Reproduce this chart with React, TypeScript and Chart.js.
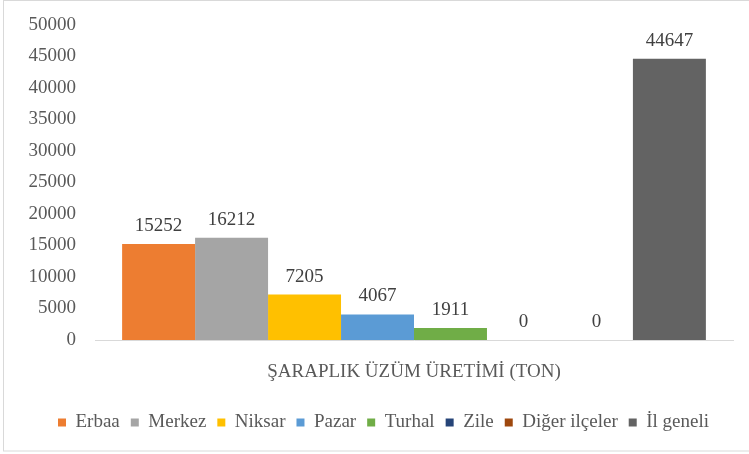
import React, { useEffect, useRef } from "react";
import { Chart, registerables } from "chart.js";

Chart.register(...registerables);

const categories = ["ŞARAPLIK ÜZÜM ÜRETİMİ (TON)"];
const seriesNames = ["Erbaa", "Merkez", "Niksar", "Pazar", "Turhal", "Zile", "Diğer ilçeler", "İl geneli"];
const seriesValues = [15252, 16212, 7205, 4067, 1911, 0, 0, 44647];
const seriesColors = ["#ED7D31", "#A5A5A5", "#FFC000", "#5B9BD5", "#70AD47", "#264478", "#9E480E", "#636363"];
const yMin = 0;
const yMax = 50000;
const yStep = 5000;

const FONT = "Liberation Serif";
const FS = 19;

const borderPlugin = {
  id: "outerBorder",
  beforeDraw(chart: any) {
    const ctx = chart.ctx;
    ctx.save();
    ctx.fillStyle = "#ffffff";
    ctx.fillRect(0, 0, chart.width, chart.height);
    ctx.strokeStyle = "#d9d9d9";
    ctx.lineWidth = 1;
    ctx.strokeRect(3.5, 0.5, chart.width, 450.5);
    ctx.restore();
  },
};

const legendShiftPlugin = {
  id: "legendShift",
  afterLayout(chart: any) {
    const lg = chart.legend;
    if (lg) {
      lg.left += 7;
      lg.right += 7;
    }
  },
};

const valueLabelPlugin = {
  id: "valueLabels",
  afterDatasetsDraw(chart: any) {
    const ctx = chart.ctx;
    ctx.save();
    ctx.font = `${FS}px "${FONT}"`;
    ctx.fillStyle = "#404040";
    ctx.textAlign = "center";
    ctx.textBaseline = "alphabetic";
    chart.data.datasets.forEach((ds: any, i: number) => {
      const meta = chart.getDatasetMeta(i);
      meta.data.forEach((el: any, j: number) => {
        ctx.fillText(String(ds.data[j]), el.x, el.y - 13);
      });
    });
    ctx.restore();
  },
};

export default function App() {
  const canvasRef = useRef<HTMLCanvasElement | null>(null);

  useEffect(() => {
    document.body.style.margin = "0";
    const canvas = canvasRef.current;
    if (!canvas) return;
    const chart = new Chart(canvas, {
      type: "bar",
      data: {
        labels: categories,
        datasets: seriesNames.map((name, i) => ({
          label: name,
          data: [seriesValues[i]],
          backgroundColor: seriesColors[i],
          borderWidth: 0,
          barPercentage: 1,
          categoryPercentage: 0.915,
        })),
      },
      options: {
        responsive: false,
        animation: false,
        layout: { padding: { top: 25, right: 16, left: 20, bottom: 12 } },
        plugins: {
          tooltip: { enabled: false },
          legend: {
            position: "bottom",
            labels: {
              boxWidth: 8,
              boxHeight: 8,
              padding: 11,
              color: "#595959",
              font: { family: FONT, size: FS },
            },
          },
        },
        scales: {
          x: {
            grid: { display: false, drawTicks: false },
            border: { display: true, color: "#d9d9d9", width: 1 },
            ticks: { color: "#595959", font: { family: FONT, size: FS }, padding: 21 },
            afterFit(scale: any) {
              scale.height = 62;
              scale.paddingLeft = 0;
              scale.paddingRight = 0;
            },
          },
          y: {
            min: yMin,
            max: yMax,
            grid: { display: false, drawTicks: false },
            border: { display: false },
            ticks: {
              stepSize: yStep,
              color: "#595959",
              font: { family: FONT, size: FS },
              padding: 19,
              callback: (v: any) => String(v),
            },
            afterFit(scale: any) {
              scale.width = 75;
              scale.paddingTop = 0;
              scale.paddingBottom = 0;
            },
          },
        },
      },
      plugins: [borderPlugin, legendShiftPlugin, valueLabelPlugin],
    } as any);
    return () => chart.destroy();
  }, []);

  return (
    <div style={{ width: 749, height: 454 }}>
      <canvas ref={canvasRef} width={749} height={454} style={{ display: "block" }} />
    </div>
  );
}
